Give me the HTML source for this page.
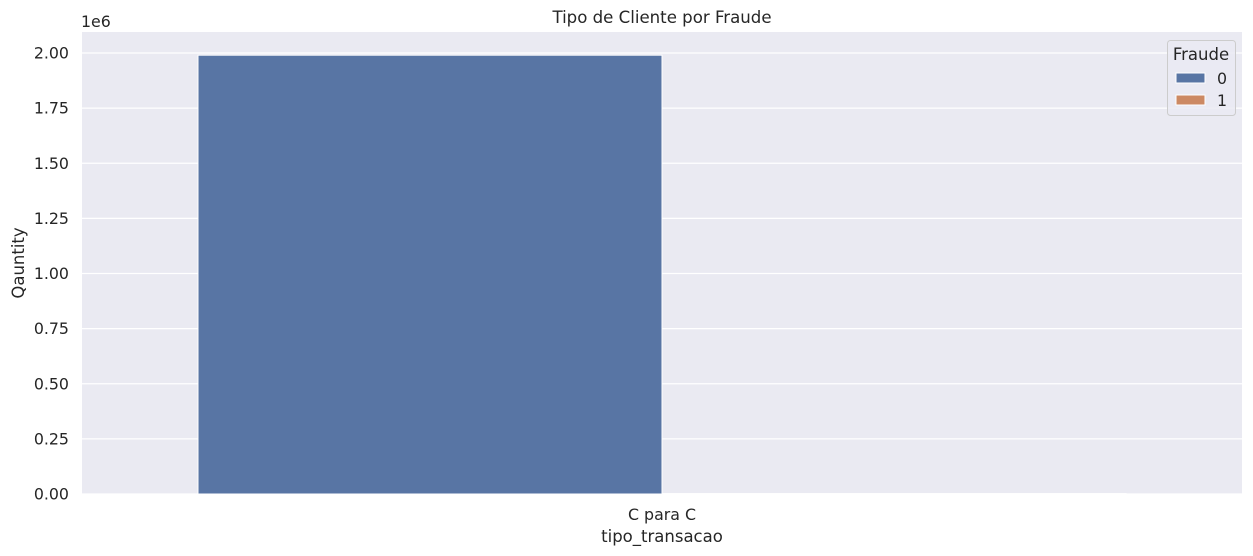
<!DOCTYPE html>
<html><head><meta charset="utf-8"><style>
body{margin:0;background:#fff;}
svg{display:block;font-family:"DejaVu Sans","Liberation Sans",sans-serif;}
</style></head><body>
<svg id="chart" width="1253" height="556">
<rect x="82" y="32" width="1160" height="462" fill="#eaeaf2"/>
<g id="grid"></g>
<g id="bars"></g>
<g id="yticks" font-size="15.8" fill="#262626" text-anchor="end"></g>
<text x="81" y="27" font-size="15.8" fill="#262626">1e6</text>
<text x="662" y="23" font-size="16.6" text-anchor="middle" fill="#262626">Tipo de Cliente por Fraude</text>
<text x="24" y="263" font-size="16.5" text-anchor="middle" fill="#262626" transform="rotate(-90 24 263)">Qauntity</text>
<g id="xticks" font-size="15.8" fill="#262626" text-anchor="middle"></g>
<text x="662" y="542" font-size="16.5" text-anchor="middle" fill="#262626">tipo_transacao</text>
<g>
<rect x="1167.5" y="40.5" width="68" height="75" rx="3" fill="#eaeaf2" fill-opacity="0.8" stroke="#cccccc"/>
<text x="1201" y="60" font-size="16.5" text-anchor="middle" fill="#262626">Fraude</text>
<rect x="1176" y="73" width="29" height="10" fill="#5875a4" stroke="#fff"/>
<text x="1222" y="84" font-size="15.8" text-anchor="middle" fill="#262626">0</text>
<rect x="1176" y="95" width="29" height="10" fill="#cc8963" stroke="#fff"/>
<text x="1222" y="106" font-size="15.8" text-anchor="middle" fill="#262626">1</text>
</g>
</svg>
<script>
const categories = ["C para C"];
const fraud0 = [1990000];
const fraud1 = [2000];
const yTicks = [0, 0.25, 0.5, 0.75, 1.0, 1.25, 1.5, 1.75, 2.0];
const yTickLabels = ["0.00","0.25","0.50","0.75","1.00","1.25","1.50","1.75","2.00"];

const NS = "http://www.w3.org/2000/svg";
const L = 82, R = 1242, B = 494, PX_PER = 220.5; // px per 1e6
const y = v => B - (v / 1e6) * PX_PER;
const catW = (R - L) / categories.length;
const xc = i => L + catW * (i + 0.5);
function mk(tag, attrs, parent, text){
  const el = document.createElementNS(NS, tag);
  for (const k in attrs) el.setAttribute(k, attrs[k]);
  if (text !== undefined) el.textContent = text;
  document.getElementById(parent).appendChild(el);
  return el;
}
yTicks.forEach((t, i) => {
  const yy = y(t * 1e6);
  const g = mk("line", {x1: L, x2: R, y1: yy, y2: yy, stroke: "#fff", "stroke-width": 1.2}, "grid");
  
  
  const tl = mk("text", {x: 69, y: yy + 5.5}, "yticks", yTickLabels[i]);
  
  
});
const bw = catW * 0.4;
categories.forEach((c, i) => {
  const b0 = mk("rect", {x: xc(i) - bw, y: y(fraud0[i]), width: bw, height: B - y(fraud0[i]), fill: "#5875a4", stroke: "#fff", "stroke-width": 1}, "bars");
  
  
  const b1 = mk("rect", {x: xc(i), y: y(fraud1[i]), width: bw, height: B - y(fraud1[i]), fill: "#cc8963", stroke: "#fff", "stroke-width": 1}, "bars");
  
  
  const xl = mk("text", {x: xc(i), y: 520}, "xticks", c);
  
  
});
</script>
</body></html>
